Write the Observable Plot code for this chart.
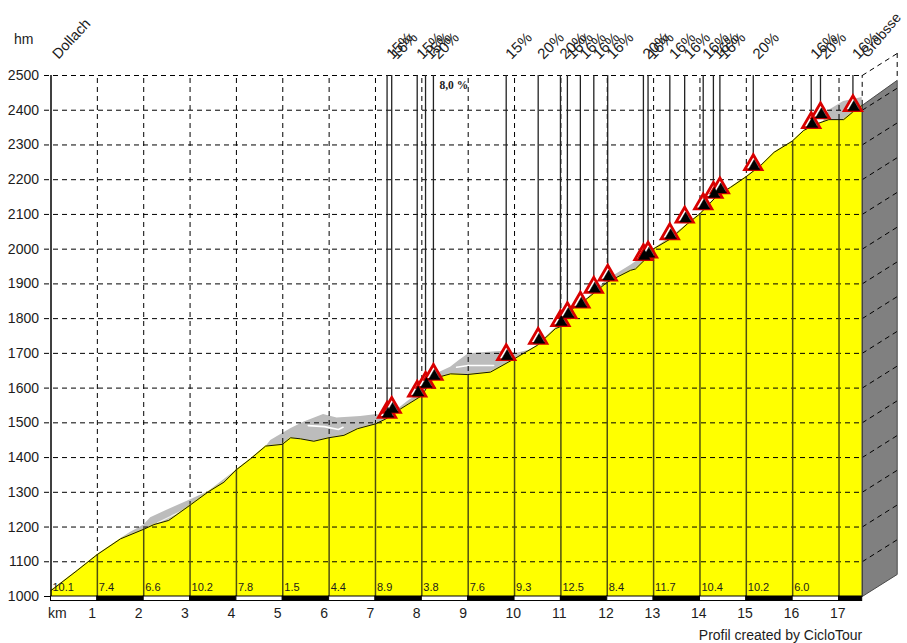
<!DOCTYPE html>
<html>
<head>
<meta charset="utf-8">
<script src="https://cdn.jsdelivr.net/npm/d3@7"></script>
<script src="https://cdn.jsdelivr.net/npm/@observablehq/plot@0.6"></script>
<style>html,body{margin:0;padding:0;background:#fff}svg{display:block}</style>
</head>
<body>
<div id="chart"></div>
<script>
const profileKm = [0,0.565,1,1.5,1.99,2.22,2.54,2.99,3.4,3.73,4,4.3,4.63,4.99,5.17,5.38,5.67,5.99,6.32,6.61,7,7.22,7.54,7.72,8.01,8.19,8.4,8.62,8.98,9.48,9.99,10.49,10.88,10.99,11.28,11.57,12,12.5,12.61,12.83,13,13.37,13.73,14,14.37,14.66,15,15.31,15.6,15.99,16.24,16.53,16.78,17.1,17.29,17.5];
const profileHm = [1017,1075,1121,1166,1193,1207,1219,1262,1302,1329,1365,1396,1433,1438,1457,1454,1447,1457,1464,1483,1497,1511,1540,1555,1579,1622,1633,1641,1639,1646,1684,1723,1771,1777,1833,1858,1905,1939,1943,1972,2001,2030,2073,2102,2154,2178,2209,2241,2279,2311,2342,2361,2373,2373,2394,2414];
const grayKm = [1.5,1.72,2,2.15,2.5,3,3.4,4.6,4.74,5.17,5.45,5.88,6.17,6.68,7.04,7.22,7.72,8.01,8.19,8.4,8.62,8.8,9.01,9.76,10.06,10.4,10.9,12,12.5,12.8,16.6,16.78,17.1,17.5];
const grayHm = [1166,1185,1205,1227,1248,1278,1302,1425,1449,1483,1502,1524,1514,1518,1524,1511,1564,1588,1628,1646,1660,1679,1699,1706,1700,1712,1775,1912,1953,1980,2350,2399,2425,2437];
const whiteAKm = [5.55,5.9,6.2,6.3];
const whiteAHm = [1492,1489,1481,1487];
const whiteBKm = [8.75,9.0,9.55];
const whiteBHm = [1660,1665,1665];
const whiteCKm = [2.3,2.6,2.9];
const whiteCHm = [1212,1232,1250];
const kmTicks = [1,2,3,4,5,6,7,8,9,10,11,12,13,14,15,16,17];
const kmHm = [1121,1193,1262,1365,1440,1457,1497,1579,1639,1684,1777,1905,2001,2102,2209,2311,2373];
const hmTicks = [1000,1100,1200,1300,1400,1500,1600,1700,1800,1900,2000,2100,2200,2300,2400,2500];
const gradeLabels = ["10.1","7.4","6.6","10.2","7.8","1.5","4.4","8.9","3.8","7.6","9.3","12.5","8.4","11.7","10.4","10.2","6.0"];
const gradeKm = [0,1,2,3,4,5,6,7,8,9,10,11,12,13,14,15,16];
const markKm = [7.25,7.35,7.90,8.08,8.25,9.82,10.51,10.99,11.14,11.42,11.71,12.01,12.78,12.88,13.35,13.67,14.07,14.29,14.43,15.15,16.40,16.60,17.30];
const markHm = [1559,1573,1620,1645,1668,1725,1772,1823,1846,1876,1919,1954,2013,2020,2073,2121,2159,2192,2205,2272,2393,2421,2442];
const markLabels = ["15%","16%","15%","15%","20%","15%","20%","20%","16%","16%","16%","16%","20%","16%","16%","16%","16%","16%","16%","20%","16%","20%","16%"];
const barStart = [0,1,2,3,4,5,6,7,8,9,10,11,12,13,14,15,16,17];
const barEnd = [1,2,3,4,5,6,7,8,9,10,11,12,13,14,15,16,17,17.5];
const sideKm = [17.5,18.255,18.255,17.5];
const sideHm = [1000,1063.4,2486,2414];
const endKm = 17.5, sideEndKm = 18.255, sideRise = 63.4;

const profile = profileKm.map((km,i)=>({km,hm:profileHm[i]}));
const gray = grayKm.map((km,i)=>({km,hm:grayHm[i]}));
const zip = (a,b)=>a.map((km,i)=>({km,hm:b[i]}));
const marks = markKm.map((km,i)=>({km,hm:markHm[i],label:markLabels[i]}));
const ink = "#1c1c1c";

const plot = Plot.plot({
  width:907, height:643,
  marginLeft:50.5, marginRight:10.3, marginTop:75, marginBottom:47,
  style:{fontFamily:"'Liberation Sans',Arial,sans-serif",background:"#fff",overflow:"visible"},
  x:{domain:[0,sideEndKm],axis:null},
  y:{domain:[1000,2500],axis:null},
  marks:[
    Plot.line(zip(sideKm,sideHm).concat([{km:sideKm[0],hm:sideHm[0]}]),{x:"km",y:"hm",fill:"#808080",stroke:"#4a4a4a",strokeWidth:1}),
    Plot.areaY(gray,{x:"km",y1:()=>1000,y2:"hm",fill:"#bcbcbc"}),
    Plot.line(zip(whiteAKm,whiteAHm),{x:"km",y:"hm",stroke:"#fff",strokeWidth:1.6}),
    Plot.line(zip(whiteBKm,whiteBHm),{x:"km",y:"hm",stroke:"#fff",strokeWidth:1.6}),
    Plot.line(zip(whiteCKm,whiteCHm),{x:"km",y:"hm",stroke:"#eee",strokeWidth:1.2}),
    Plot.ruleX(kmTicks,{y1:1000,y2:2500,stroke:"#000",strokeWidth:1,strokeDasharray:"5,4"}),
    Plot.areaY(profile,{x:"km",y1:()=>1000,y2:"hm",fill:"#ffff00"}),
    Plot.ruleY(hmTicks.slice(1),{x1:-0.14,x2:endKm,stroke:"#000",strokeWidth:1,strokeDasharray:"5,4"}),
    Plot.ruleY([1000],{x1:-0.14,x2:0,stroke:"#000",strokeWidth:1}),
    Plot.link(hmTicks.slice(1),{x1:()=>endKm,x2:()=>sideEndKm,y1:d=>d,y2:d=>d+sideRise,stroke:"#000",strokeWidth:1,strokeDasharray:"5,4"}),
    Plot.ruleX([sideEndKm],{y1:2500+sideRise,y2:2486,stroke:"#000",strokeWidth:1,strokeDasharray:"5,4"}),
    Plot.ruleX(kmTicks,{y1:1000,y2:(d,i)=>kmHm[i],stroke:"#4f4f10",strokeWidth:1.5}),
    Plot.ruleX([endKm],{y1:1000,y2:2414,stroke:"#3a3a3a",strokeWidth:1.2}),
    Plot.ruleX([endKm],{y1:2414,y2:2500,stroke:"#000",strokeWidth:1,strokeDasharray:"5,4"}),
    Plot.ruleX([0],{y1:1000,y2:2500,stroke:"#000",strokeWidth:1.5}),
    Plot.line(profile,{x:"km",y:"hm",stroke:"#111",strokeWidth:1}),
    Plot.rect(barStart.map((s,i)=>({s,e:barEnd[i],i})),{x1:"s",x2:"e",y1:()=>1000,y2:()=>987,fill:d=>d.i%2?"#000":"#fff",stroke:"#000",strokeWidth:1}),
    Plot.ruleX(marks,{x:"km",y1:"hm",y2:()=>2500,stroke:"#222",strokeWidth:1.3}),
    Plot.dot(marks,{x:"km",y:"hm",symbol:"triangle",r:6.4,dy:10,fill:"#fff",stroke:"#d80000",strokeWidth:2.8,strokeLinejoin:"miter"}),
    Plot.dot(marks,{x:"km",y:"hm",symbol:"triangle",r:4.3,dy:11.6,dx:0.9,fill:"#000",stroke:"#000",strokeWidth:0.5}),
    Plot.text(marks,{x:"km",y:()=>2500,text:"label",rotate:-45,textAnchor:"start",dx:2,dy:-19,fontSize:15,fill:ink}),
    Plot.text(["Dollach"],{x:()=>0,y:()=>2500,text:d=>d,rotate:-47,textAnchor:"start",dx:4,dy:-19,fontSize:14.5,fill:ink}),
    Plot.text(["Gröbsse"],{x:()=>endKm,y:()=>2500,text:d=>d,rotate:-50,textAnchor:"start",dx:2,dy:-20,fontSize:14,fill:ink}),
    Plot.text(["8,0 %"],{x:()=>8.38,y:()=>2500,text:d=>d,textAnchor:"start",dy:10,fontSize:11.5,fontWeight:"bold",fontFamily:"'Liberation Serif',serif",fill:ink}),
    Plot.text(gradeLabels,{x:(d,i)=>gradeKm[i],y:()=>1000,text:d=>d,textAnchor:"start",dx:1.5,dy:-9,fontSize:11,fill:ink}),
    Plot.axisY({ticks:hmTicks,tickSize:0,tickPadding:12,fontSize:14,fill:ink,label:null,tickFormat:"d"}),
    Plot.axisX({ticks:kmTicks,tickSize:0,tickPadding:12,fontSize:14,fill:ink,label:null,textAnchor:"start",dx:-9}),
    Plot.text(["km"],{x:()=>0,y:()=>1000,text:d=>d,textAnchor:"start",dx:-3,dy:17,fontSize:14,fill:ink}),
    Plot.text(["hm"],{x:()=>0,y:()=>2500,text:d=>d,textAnchor:"start",dx:-37,dy:-36,fontSize:14,fill:ink}),
    Plot.text(["Profil created by CicloTour"],{x:()=>endKm,y:()=>1000,text:d=>d,textAnchor:"end",dy:39,fontSize:14,fill:ink})
  ]
});
document.getElementById("chart").append(plot);
</script>
</body>
</html>
